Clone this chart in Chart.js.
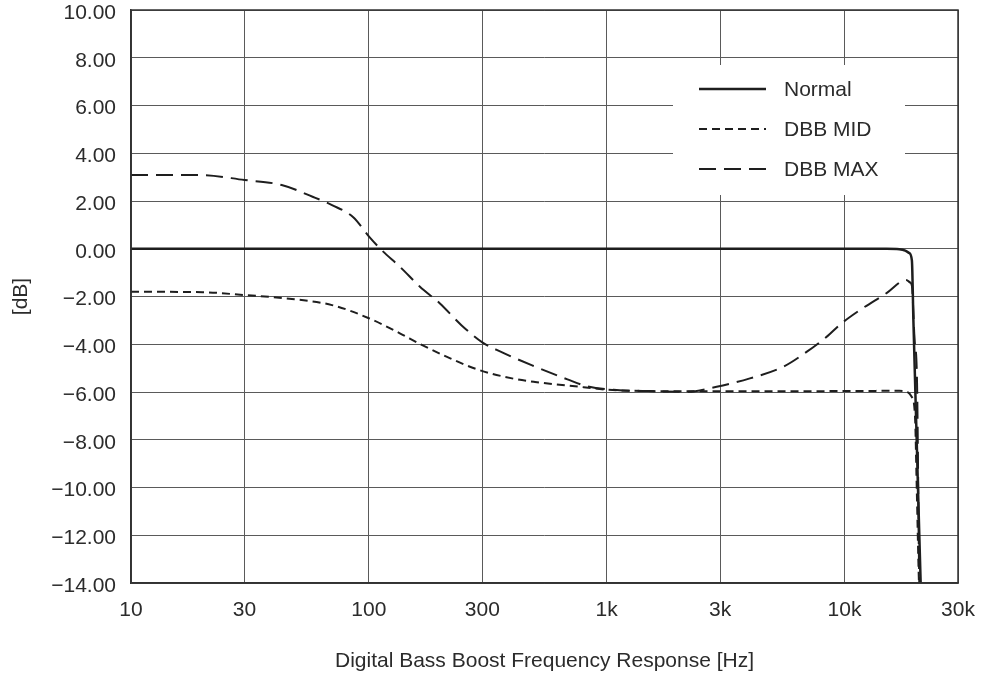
<!DOCTYPE html>
<html>
<head>
<meta charset="utf-8">
<script src="https://cdn.jsdelivr.net/npm/chart.js@4.4.1/dist/chart.umd.min.js"></script>
<style>
  body { margin: 0; background: #fff; }
</style>
</head>
<body>
<canvas id="dbbChart" width="986" height="678"></canvas>
<script>
// ----------------------------
// Data
// ----------------------------
const xTickValues = [10, 30, 100, 300, 1000, 3000, 10000, 30000];
const xTickLabels = ["10", "30", "100", "300", "1k", "3k", "10k", "30k"];
const yTickValues = [-14, -12, -10, -8, -6, -4, -2, 0, 2, 4, 6, 8, 10];

const normalFreq = [10, 1000, 15000, 17000, 18000, 18700, 19200, 19480, 20110, 20900, 21100];
const normalDb   = [0, 0, 0, -0.02, -0.08, -0.18, -0.5, -3, -8, -14, -15];

const midFreq = [10, 20, 30, 45, 70, 100, 135, 165, 220, 285, 400, 500, 800, 1000, 2000, 5000, 10000, 17000, 18000, 19160, 19780, 20120, 20560, 20800];
const midDb   = [-1.8, -1.82, -1.94, -2.08, -2.36, -2.91, -3.54, -4.0, -4.59, -5.05, -5.43, -5.58, -5.8, -5.9, -5.97, -5.97, -5.96, -5.95, -5.97, -6.2, -7.0, -10, -14, -15];

const maxFreq = [10, 19.5, 30, 43, 58, 70, 86, 100, 113, 135, 164, 199, 245, 300, 356, 490, 684, 825, 1100, 1500, 2170, 2900, 4000, 5530, 6950, 8500, 9650, 11600, 15070, 18130, 18900, 19200, 19700, 20170, 20620, 20800];
const maxDb   = [3.09, 3.09, 2.88, 2.67, 2.18, 1.83, 1.32, 0.52, -0.05, -0.75, -1.59, -2.29, -3.2, -3.92, -4.3, -4.9, -5.47, -5.76, -5.92, -5.96, -5.99, -5.78, -5.43, -4.94, -4.31, -3.65, -3.15, -2.57, -1.85, -1.31, -1.42, -1.55, -3.8, -5.5, -14, -15];

const toPoints = (xs, ys) => xs.map((x, i) => ({ x: x, y: ys[i] }));

const FONT = { family: "'Liberation Sans', Arial, sans-serif", size: 21 };
const TEXT = "#2b2b2b";
const LINE = "#1e1e1e";
const GRID = "#5a5a5a";

// ----------------------------
// Frame + legend inside the plot
// ----------------------------
const framePlugin = {
    id: "frame",
    afterDraw(chart) {
        const { ctx, chartArea: a } = chart;
        ctx.save();

        // legend box (white, hides the grid)
        const bx = a.left + 542, by = a.top + 55, bw = 232, bh = 130;
        ctx.fillStyle = "#fff";
        ctx.fillRect(bx, by, bw, bh);

        ctx.font = FONT.size + "px " + FONT.family;
        ctx.textBaseline = "middle";
        ctx.textAlign = "left";
        chart.data.datasets.forEach((ds, i) => {
            const y = by + 24 + i * 40;
            ctx.beginPath();
            ctx.strokeStyle = ds.borderColor;
            ctx.lineWidth = ds.borderWidth;
            ctx.setLineDash(ds.borderDash || []);
            ctx.moveTo(bx + 26, y);
            ctx.lineTo(bx + 93, y);
            ctx.stroke();
            ctx.setLineDash([]);
            ctx.fillStyle = TEXT;
            ctx.fillText(ds.label, bx + 111, y + 1);
        });

        // plot frame
        ctx.strokeStyle = "#333";
        ctx.lineWidth = 1.5;
        ctx.strokeRect(a.left, a.top, a.right - a.left, a.bottom - a.top);
        ctx.restore();
    }
};

const ctx = document.getElementById("dbbChart").getContext("2d");

new Chart(ctx, {
    type: "line",
    data: {
        datasets: [
            {
                label: "Normal",
                data: toPoints(normalFreq, normalDb),
                borderColor: LINE,
                borderWidth: 2.5,
                pointRadius: 0,
                cubicInterpolationMode: "monotone"
            },
            {
                label: "DBB MID",
                data: toPoints(midFreq, midDb),
                borderColor: LINE,
                borderWidth: 2,
                borderDash: [8, 5],
                pointRadius: 0,
                cubicInterpolationMode: "monotone"
            },
            {
                label: "DBB MAX",
                data: toPoints(maxFreq, maxDb),
                borderColor: LINE,
                borderWidth: 2,
                borderDash: [17, 8],
                pointRadius: 0,
                cubicInterpolationMode: "monotone"
            }
        ]
    },
    options: {
        responsive: false,
        animation: false,
        layout: { padding: { top: 10, right: 28, left: 0, bottom: 0 } },
        plugins: {
            legend: { display: false },
            tooltip: { enabled: false }
        },
        scales: {
            x: {
                type: "logarithmic",
                min: 10,
                max: 30000,
                afterBuildTicks: scale => {
                    scale.ticks = xTickValues.map(v => ({ value: v }));
                },
                afterFit: scale => {
                    scale.height = 95;
                    scale.paddingLeft = 0;
                    scale.paddingRight = 0;
                },
                ticks: {
                    autoSkip: false,
                    maxRotation: 0,
                    padding: 15,
                    color: TEXT,
                    font: FONT,
                    callback: value => xTickLabels[xTickValues.indexOf(value)]
                },
                grid: { color: GRID, lineWidth: 1, drawTicks: false },
                border: { color: "#333", width: 1.5 },
                title: {
                    display: true,
                    text: "Digital Bass Boost Frequency Response [Hz]",
                    color: TEXT,
                    font: FONT,
                    padding: { top: 0, bottom: 4 }
                }
            },
            y: {
                min: -14,
                max: 10,
                afterBuildTicks: scale => {
                    scale.ticks = yTickValues.map(v => ({ value: v }));
                },
                afterFit: scale => {
                    scale.width = 131;
                    scale.paddingTop = 0;
                    scale.paddingBottom = 0;
                },
                ticks: {
                    padding: 15,
                    labelOffset: 3,
                    color: TEXT,
                    font: FONT,
                    callback: value => (value < 0 ? "\u2212" : "") + Math.abs(value).toFixed(2)
                },
                grid: { color: GRID, lineWidth: 1, drawTicks: false },
                border: { color: "#333", width: 1.5 },
                title: {
                    display: true,
                    text: "[dB]",
                    color: TEXT,
                    font: FONT,
                    padding: { top: 9, bottom: 9 }
                }
            }
        }
    },
    plugins: [framePlugin]
});
</script>
</body>
</html>
